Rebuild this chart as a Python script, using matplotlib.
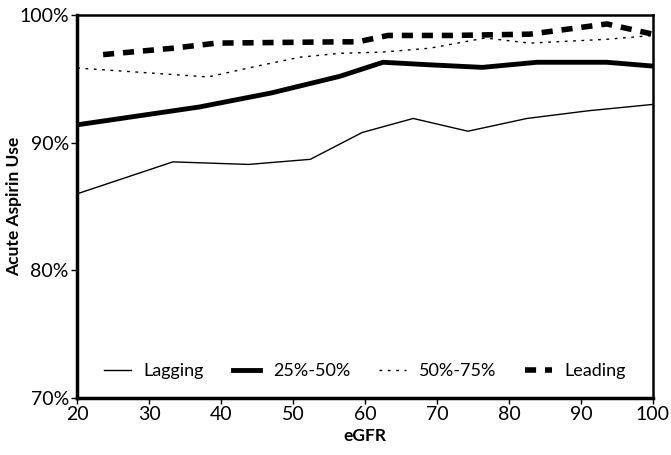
import matplotlib
matplotlib.use('Agg')
import matplotlib.pyplot as plt
from matplotlib.ticker import FuncFormatter

# data (eGFR vs acute aspirin use, %)
lag_x = [20, 33.3, 43.8, 52.4, 59.6, 66.7, 74.3, 82.5, 91, 100]
lag_y = [86.0, 88.5, 88.3, 88.7, 90.8, 91.9, 90.9, 91.9, 92.5, 93.0]

q2_x = [20, 37, 47, 56.5, 62.5, 69, 76.3, 83.9, 93.6, 100]
q2_y = [91.4, 92.8, 93.9, 95.2, 96.3, 96.1, 95.9, 96.3, 96.3, 96.0]

q3_x = [20, 38.2, 45, 51, 56.5, 62.5, 69, 76.7, 82.9, 93.6, 100]
q3_y = [95.85, 95.15, 96.0, 96.7, 97.0, 97.1, 97.4, 98.2, 97.8, 98.1, 98.4]

lead_x = [23.6, 33.3, 39.4, 56.5, 59, 63.2, 72, 82.9, 93.6, 100]
lead_y = [96.9, 97.4, 97.8, 97.9, 97.9, 98.4, 98.4, 98.5, 99.3, 98.5]

plt.rcParams['font.family'] = ['Lato', 'DejaVu Sans']

fig = plt.figure(figsize=(6.71, 4.55), dpi=100)
ax = fig.add_axes([0.115, 0.125, 0.858, 0.842])

ax.plot(lag_x, lag_y, color='black', lw=1.0, label='Lagging')
ax.plot(q2_x, q2_y, color='black', lw=3.5, label='25%-50%')
ax.plot(q3_x, q3_y, color='black', lw=1.0, ls=(0, (2, 4)), label='50%-75%')
ax.plot(lead_x, lead_y, color='black', lw=4, ls=(0, (2, 1.6)), label='Leading')

ax.set_xlim(20, 100)
ax.set_ylim(70, 100)
ax.set_xticks(range(20, 101, 10))
ax.set_yticks([70, 80, 90, 100])
ax.yaxis.set_major_formatter(FuncFormatter(lambda v, p: '%d%%' % v))
ax.tick_params(labelsize=14, length=4, width=1, direction='out', pad=2)

for s in ['left', 'bottom']:
    ax.spines[s].set_linewidth(2.5)
for s in ['top', 'right']:
    ax.spines[s].set_linewidth(1.8)

ax.set_xlabel('eGFR', fontsize=12.5, fontweight='bold', labelpad=3)
ax.set_ylabel('Acute Aspirin Use', fontsize=12.5, fontweight='bold', va='center')
ax.yaxis.set_label_coords(-0.109, 0.5)

ax.legend(loc='center', ncol=4, frameon=False, fontsize=13,
          handlelength=1.5, handletextpad=0.7, columnspacing=1.6,
          bbox_to_anchor=(0.5, 0.07))

fig.savefig('out.png', dpi=100)
